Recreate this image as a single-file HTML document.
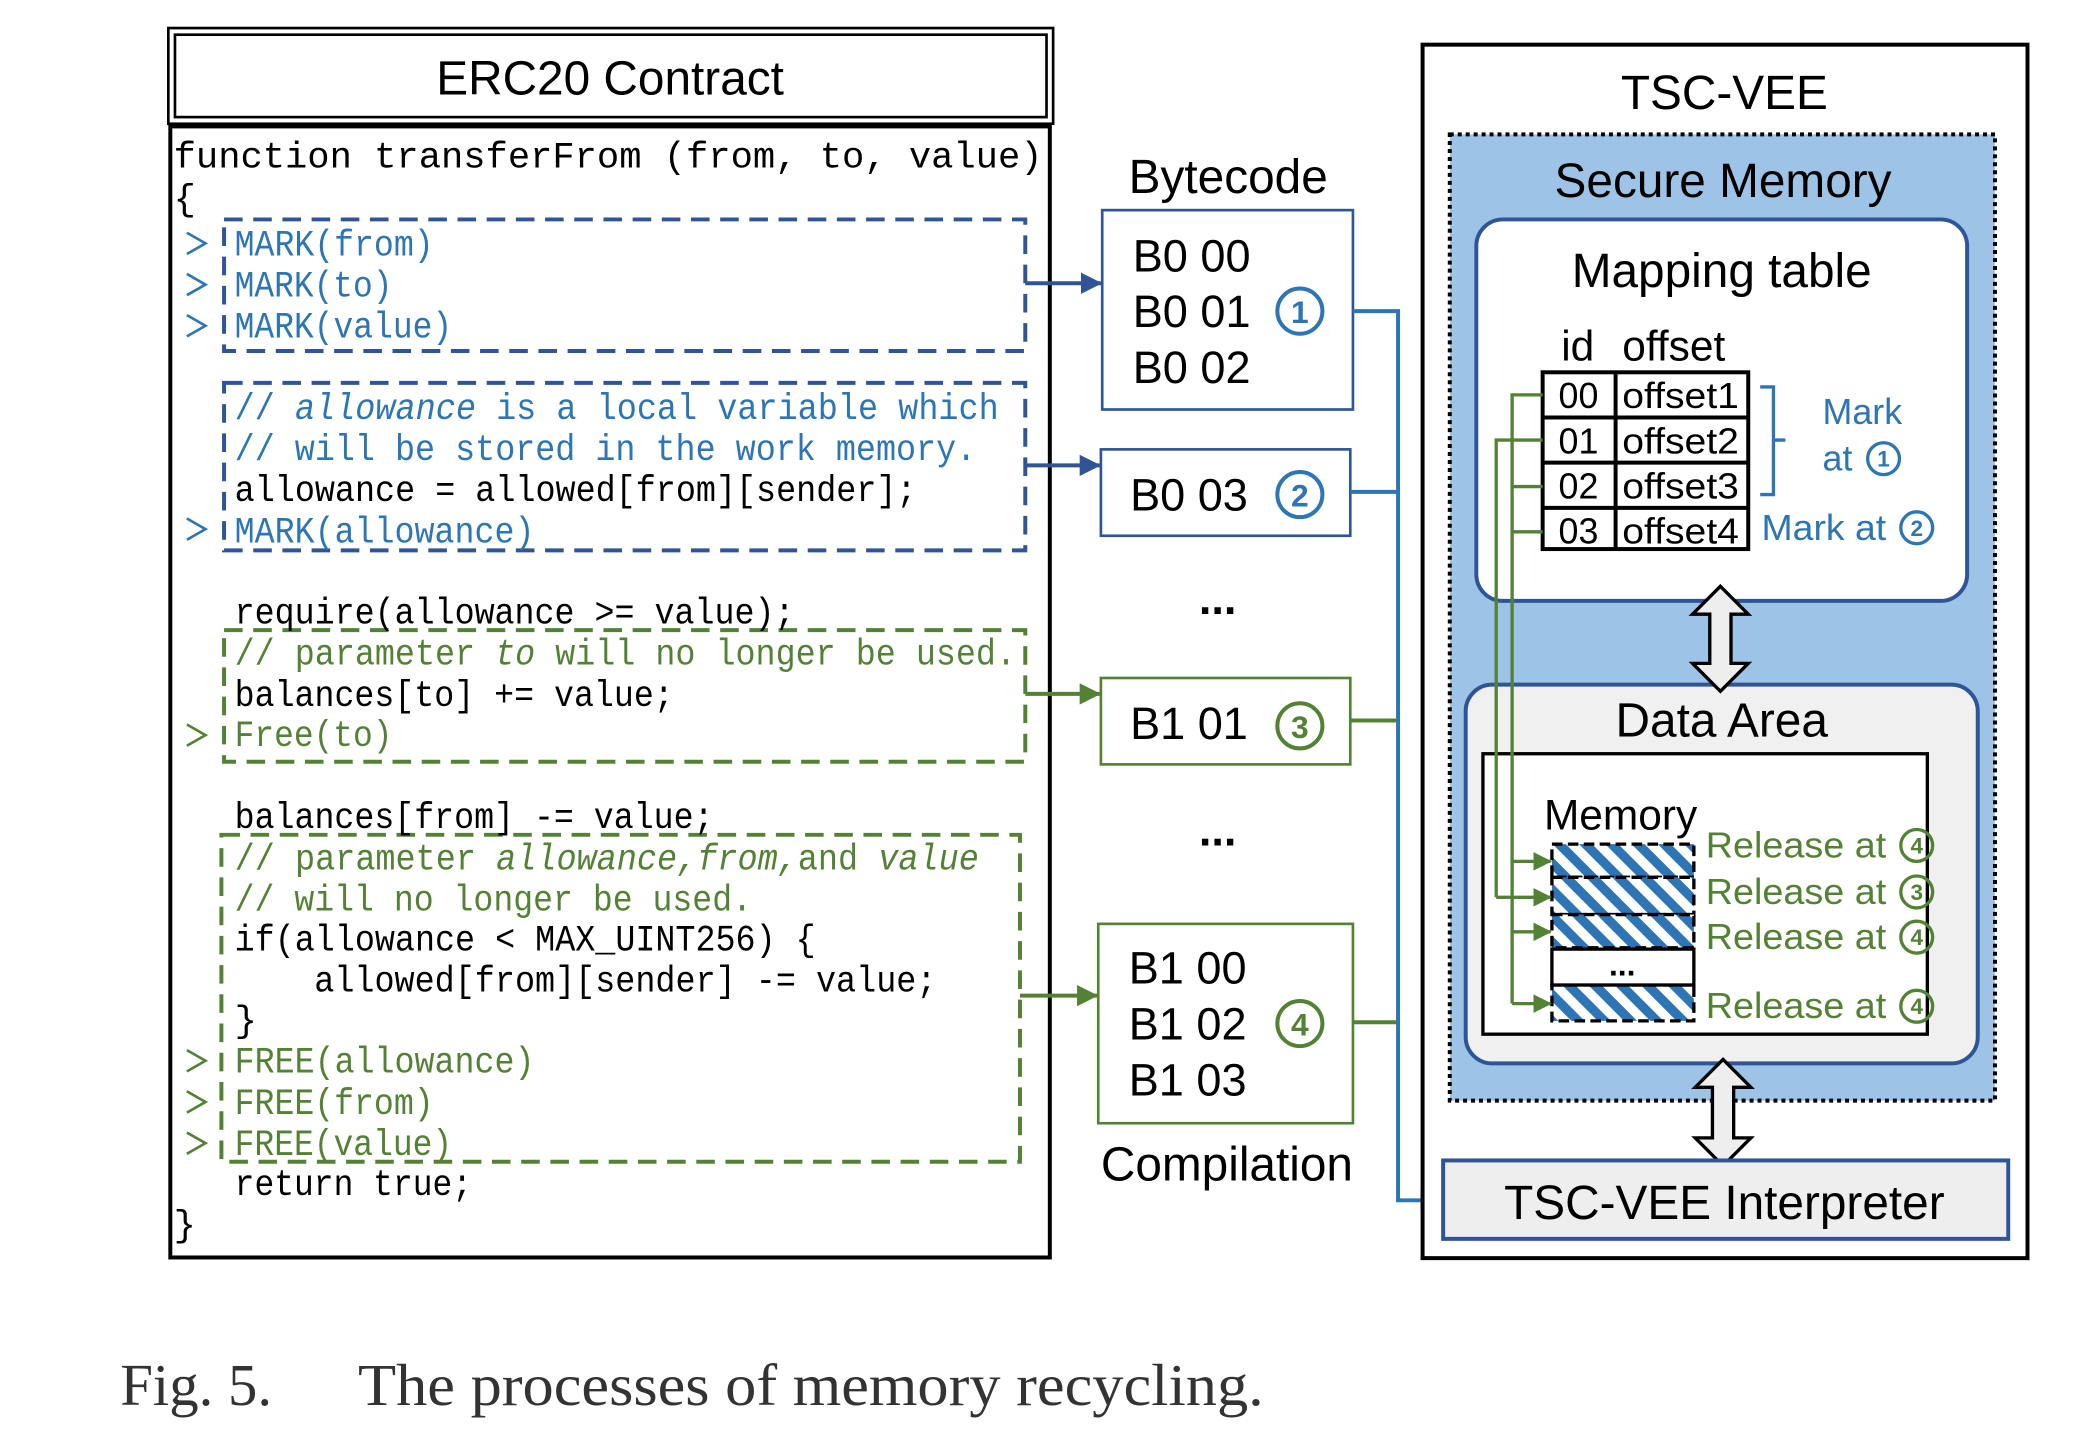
<!DOCTYPE html>
<html><head><meta charset="utf-8"><style>
html,body{margin:0;padding:0;background:#fff;}
svg{display:block;}
.mono{font-family:"Liberation Mono","DejaVu Sans Mono",monospace;font-size:28px;}
.sans{font-family:"Liberation Sans",Arial,sans-serif;}
</style></head><body>
<svg width="2084" height="1456" viewBox="0 0 1560 1090" preserveAspectRatio="none" xmlns="http://www.w3.org/2000/svg">
<defs>
<pattern id="hatch" width="14" height="14" patternUnits="userSpaceOnUse" patternTransform="rotate(-45)">
<rect width="14" height="14" fill="#fff"/><rect width="7" height="14" fill="#2e75b6"/>
</pattern>
<marker id="ab" markerWidth="16" markerHeight="16" refX="15" refY="8" orient="auto" markerUnits="userSpaceOnUse" viewBox="0 0 16 16"><path d="M0,0 L16,8 L0,16 z" fill="#2f5597"/></marker>
<marker id="ag" markerWidth="16" markerHeight="16" refX="15" refY="8" orient="auto" markerUnits="userSpaceOnUse" viewBox="0 0 16 16"><path d="M0,0 L16,8 L0,16 z" fill="#548235"/></marker>
<marker id="ags" markerWidth="14" markerHeight="14" refX="13" refY="7" orient="auto" markerUnits="userSpaceOnUse" viewBox="0 0 14 14"><path d="M0,0 L14,7 L0,14 z" fill="#548235"/></marker>
<marker id="al" markerWidth="16" markerHeight="16" refX="15" refY="8" orient="auto" markerUnits="userSpaceOnUse" viewBox="0 0 16 16"><path d="M0,0 L16,8 L0,16 z" fill="#2e75b6"/></marker>
</defs>
<g transform="translate(127,21) scale(0.993,0.995) translate(-127,-21)">
<rect x="126" y="21" width="667" height="72" fill="none" stroke="#000" stroke-width="2"/>
<rect x="131" y="26" width="657" height="62" fill="none" stroke="#000" stroke-width="2"/>
<text x="459" y="71" text-anchor="middle" class="sans" font-size="36">ERC20 Contract</text>
<rect x="127.5" y="95" width="663" height="851" fill="none" stroke="#000" stroke-width="3"/>

<rect x="168" y="165" width="604" height="99" fill="none" stroke="#2f5597" stroke-width="3" stroke-dasharray="14 8"/>
<rect x="168" y="288" width="604" height="126" fill="none" stroke="#2f5597" stroke-width="3" stroke-dasharray="14 8"/>
<rect x="168" y="474" width="604" height="99" fill="none" stroke="#548235" stroke-width="3" stroke-dasharray="14 8"/>
<rect x="166" y="628" width="602" height="246" fill="none" stroke="#548235" stroke-width="3" stroke-dasharray="14 8"/>

<g class="mono">
<text x="130" y="126" fill="#000" textLength="655" lengthAdjust="spacingAndGlyphs">function transferFrom (from, to, value)</text>
<text x="130" y="158" fill="#000">{</text>
<text x="176" y="192" fill="#2e75b6" textLength="150" lengthAdjust="spacingAndGlyphs">MARK(from)</text>
<text x="176" y="223" fill="#2e75b6" textLength="119" lengthAdjust="spacingAndGlyphs">MARK(to)</text>
<text x="176" y="254" fill="#2e75b6" textLength="164" lengthAdjust="spacingAndGlyphs">MARK(value)</text>
<text x="176" y="315" fill="#2e75b6" textLength="576" lengthAdjust="spacingAndGlyphs">// <tspan font-style="italic">allowance</tspan> is a local variable which</text>
<text x="176" y="346" fill="#2e75b6" textLength="559" lengthAdjust="spacingAndGlyphs">// will be stored in the work memory.</text>
<text x="176" y="377" fill="#000" textLength="514" lengthAdjust="spacingAndGlyphs">allowance = allowed[from][sender];</text>
<text x="176" y="408" fill="#2e75b6" textLength="226" lengthAdjust="spacingAndGlyphs">MARK(allowance)</text>
<text x="176" y="469" fill="#000" textLength="422" lengthAdjust="spacingAndGlyphs">require(allowance &gt;= value);</text>
<text x="176" y="500" fill="#548235" textLength="589" lengthAdjust="spacingAndGlyphs">// parameter <tspan font-style="italic">to</tspan> will no longer be used.</text>
<text x="176" y="531" fill="#000" textLength="331" lengthAdjust="spacingAndGlyphs">balances[to] += value;</text>
<text x="176" y="561" fill="#548235" textLength="119" lengthAdjust="spacingAndGlyphs">Free(to)</text>
<text x="176" y="623" fill="#000" textLength="361" lengthAdjust="spacingAndGlyphs">balances[from] -= value;</text>
<text x="176" y="654" fill="#548235" textLength="561" lengthAdjust="spacingAndGlyphs">// parameter <tspan font-style="italic">allowance,from,</tspan>and <tspan font-style="italic">value</tspan></text>
<text x="176" y="685" fill="#548235" textLength="390" lengthAdjust="spacingAndGlyphs">// will no longer be used.</text>
<text x="176" y="715" fill="#000" textLength="438" lengthAdjust="spacingAndGlyphs">if(allowance &lt; MAX_UINT256) {</text>
<text x="236" y="746" fill="#000" textLength="469" lengthAdjust="spacingAndGlyphs">allowed[from][sender] -= value;</text>
<text x="176" y="776" fill="#000">}</text>
<text x="176" y="807" fill="#548235" textLength="226" lengthAdjust="spacingAndGlyphs">FREE(allowance)</text>
<text x="176" y="838" fill="#548235" textLength="150" lengthAdjust="spacingAndGlyphs">FREE(from)</text>
<text x="176" y="869" fill="#548235" textLength="164" lengthAdjust="spacingAndGlyphs">FREE(value)</text>
<text x="176" y="899" fill="#000" textLength="179" lengthAdjust="spacingAndGlyphs">return true;</text>
<text x="130" y="930" fill="#000">}</text>
</g>
<g fill="none" stroke-width="2">
<path d="M140,175 L154,183 L140,191" stroke="#2e75b6"/>
<path d="M140,206 L154,214 L140,222" stroke="#2e75b6"/>
<path d="M140,237 L154,245 L140,253" stroke="#2e75b6"/>
<path d="M140,390 L154,398 L140,406" stroke="#2e75b6"/>
<path d="M140,545 L154,553 L140,561" stroke="#548235"/>
<path d="M140,790 L154,798 L140,806" stroke="#548235"/>
<path d="M140,821 L154,829 L140,837" stroke="#548235"/>
<path d="M140,852 L154,860 L140,868" stroke="#548235"/>
</g>

<line x1="772" y1="213" x2="829" y2="213" stroke="#2f5597" stroke-width="3" marker-end="url(#ab)"/>
<line x1="772" y1="350" x2="828" y2="350" stroke="#2f5597" stroke-width="3" marker-end="url(#ab)"/>
<line x1="772" y1="522" x2="828" y2="522" stroke="#548235" stroke-width="3" marker-end="url(#ag)"/>
<line x1="768" y1="749" x2="826" y2="749" stroke="#548235" stroke-width="3" marker-end="url(#ag)"/>

<text x="925" y="145" text-anchor="middle" class="sans" font-size="36">Bytecode</text>
<g class="sans" font-size="34">
<rect x="830" y="158" width="189" height="150" fill="#fff" stroke="#2f5597" stroke-width="2"/>
<text x="853" y="204">B0 00</text><text x="853" y="246">B0 01</text><text x="853" y="288">B0 02</text>
<rect x="829" y="338" width="188" height="65" fill="#fff" stroke="#2f5597" stroke-width="2"/>
<text x="851" y="384">B0 03</text>
<text x="917" y="462" text-anchor="middle" font-weight="bold">...</text>
<rect x="829" y="510" width="188" height="65" fill="#fff" stroke="#548235" stroke-width="2"/>
<text x="851" y="556">B1 01</text>
<text x="917" y="636" text-anchor="middle" font-weight="bold">...</text>
<rect x="827" y="695" width="192" height="150" fill="#fff" stroke="#548235" stroke-width="2"/>
<text x="850" y="740">B1 00</text><text x="850" y="782">B1 02</text><text x="850" y="824">B1 03</text>
</g>
<text x="924" y="888" text-anchor="middle" class="sans" font-size="36">Compilation</text>
<g class="sans" font-size="24" font-weight="bold" text-anchor="middle" fill="none" stroke-width="3">
<circle cx="979" cy="234" r="17" stroke="#2e75b6"/><text x="979" y="243" fill="#2e75b6" stroke="none">1</text>
<circle cx="979" cy="372" r="17" stroke="#2e75b6"/><text x="979" y="381" fill="#2e75b6" stroke="none">2</text>
<circle cx="979" cy="546" r="17" stroke="#548235"/><text x="979" y="555" fill="#548235" stroke="none">3</text>
<circle cx="979" cy="770" r="17" stroke="#548235"/><text x="979" y="779" fill="#548235" stroke="none">4</text>
</g>

<polyline points="1019,234 1053,234 1053,903 1085,903" fill="none" stroke="#2e75b6" stroke-width="3" marker-end="url(#al)"/>
<line x1="1017" y1="370" x2="1053" y2="370" stroke="#2e75b6" stroke-width="3"/>
<line x1="1017" y1="542" x2="1052" y2="542" stroke="#548235" stroke-width="3"/>
<line x1="1019" y1="769" x2="1052" y2="769" stroke="#548235" stroke-width="3"/>

<rect x="1071.5" y="33.5" width="456" height="913" fill="#fff" stroke="#000" stroke-width="3"/>
<text x="1299" y="82" text-anchor="middle" class="sans" font-size="36">TSC-VEE</text>
<rect x="1092" y="101" width="411" height="727" fill="#9dc3e6" stroke="#000" stroke-width="3" stroke-dasharray="3 3"/>
<text x="1298" y="148" text-anchor="middle" class="sans" font-size="36">Secure Memory</text>

<rect x="1112" y="165" width="370" height="287" rx="20" fill="#fff" stroke="#2f5597" stroke-width="3"/>
<text x="1297" y="216" text-anchor="middle" class="sans" font-size="36">Mapping table</text>
<text x="1176" y="271" class="sans" font-size="32">id</text>
<text x="1222" y="271" class="sans" font-size="32">offset</text>
<g stroke="#000" stroke-width="3" fill="#fff">
<rect x="1162" y="280" width="155" height="133"/>
<line x1="1217" y1="280" x2="1217" y2="413"/>
<line x1="1162" y1="314" x2="1317" y2="314"/>
<line x1="1162" y1="348" x2="1317" y2="348"/>
<line x1="1162" y1="382" x2="1317" y2="382"/>
</g>
<g class="sans" font-size="27">
<text x="1174" y="307">00</text><text x="1222" y="307" textLength="88" lengthAdjust="spacingAndGlyphs">offset1</text>
<text x="1174" y="341">01</text><text x="1222" y="341" textLength="88" lengthAdjust="spacingAndGlyphs">offset2</text>
<text x="1174" y="375">02</text><text x="1222" y="375" textLength="88" lengthAdjust="spacingAndGlyphs">offset3</text>
<text x="1174" y="409">03</text><text x="1222" y="409" textLength="88" lengthAdjust="spacingAndGlyphs">offset4</text>
</g>
<path d="M1326,291 L1336,291 L1336,372 L1326,372 M1336,331 L1345,331" fill="none" stroke="#2e75b6" stroke-width="2.5"/>
<g class="sans" font-size="27" fill="#2e75b6">
<text x="1373" y="319">Mark</text>
<text x="1373" y="354">at</text>
<text x="1327" y="406" textLength="94" lengthAdjust="spacingAndGlyphs">Mark at</text>
</g>
<g class="sans" font-size="17" font-weight="bold" text-anchor="middle" fill="none" stroke="#2e75b6" stroke-width="2.5">
<circle cx="1419" cy="345" r="12"/><text x="1419" y="351" fill="#2e75b6" stroke="none">1</text>
<circle cx="1444" cy="397" r="12"/><text x="1444" y="403" fill="#2e75b6" stroke="none">2</text>
</g>

<rect x="1104" y="515" width="386" height="285" rx="20" fill="#f0f0f0" stroke="#2f5597" stroke-width="3"/>
<text x="1297" y="554" text-anchor="middle" class="sans" font-size="36">Data Area</text>
<rect x="1117" y="567" width="335" height="211" fill="#fff" stroke="#000" stroke-width="2.5"/>
<text x="1163" y="624" class="sans" font-size="32">Memory</text>
<g stroke="#000" stroke-width="2.5" stroke-dasharray="8 4">
<rect x="1169" y="635" width="107" height="25" fill="url(#hatch)"/>
<rect x="1169" y="660" width="107" height="28" fill="url(#hatch)"/>
<rect x="1169" y="688" width="107" height="25" fill="url(#hatch)"/>
<rect x="1169" y="741" width="107" height="27" fill="url(#hatch)"/>
</g>
<rect x="1169" y="714" width="107" height="27" fill="#fff" stroke="#000" stroke-width="2.5"/>
<text x="1222" y="734" text-anchor="middle" class="sans" font-size="24" font-weight="bold">...</text>
<g class="sans" font-size="27" fill="#548235">
<text x="1285" y="645" textLength="136" lengthAdjust="spacingAndGlyphs">Release at</text>
<text x="1285" y="680" textLength="136" lengthAdjust="spacingAndGlyphs">Release at</text>
<text x="1285" y="714" textLength="136" lengthAdjust="spacingAndGlyphs">Release at</text>
<text x="1285" y="766" textLength="136" lengthAdjust="spacingAndGlyphs">Release at</text>
</g>
<g class="sans" font-size="17" font-weight="bold" text-anchor="middle" fill="none" stroke="#548235" stroke-width="2.5">
<circle cx="1444" cy="636" r="12"/><text x="1444" y="642" fill="#548235" stroke="none">4</text>
<circle cx="1444" cy="671" r="12"/><text x="1444" y="677" fill="#548235" stroke="none">3</text>
<circle cx="1444" cy="705" r="12"/><text x="1444" y="711" fill="#548235" stroke="none">4</text>
<circle cx="1444" cy="757" r="12"/><text x="1444" y="763" fill="#548235" stroke="none">4</text>
</g>

<g fill="none" stroke="#548235" stroke-width="2.5">
<polyline points="1162,297 1139,297 1139,755"/>
<line x1="1162" y1="366" x2="1139" y2="366"/>
<line x1="1162" y1="400" x2="1139" y2="400"/>
<polyline points="1162,331 1127,331 1127,675"/>
<line x1="1139" y1="648" x2="1168" y2="648" marker-end="url(#ags)"/>
<line x1="1127" y1="675" x2="1168" y2="675" marker-end="url(#ags)"/>
<line x1="1139" y1="701" x2="1168" y2="701" marker-end="url(#ags)"/>
<line x1="1139" y1="755" x2="1168" y2="755" marker-end="url(#ags)"/>
</g>

<path d="M1296,441 L1317,462 L1304,462 L1304,499 L1317,499 L1296,520 L1275,499 L1288,499 L1288,462 L1275,462 Z" fill="#eee" stroke="#000" stroke-width="2.5"/>
<path d="M1298,797 L1319,818 L1306,818 L1306,856 L1319,856 L1298,877 L1277,856 L1290,856 L1290,818 L1277,818 Z" fill="#eee" stroke="#000" stroke-width="2.5"/>

<rect x="1087" y="873" width="426" height="59" fill="#eee" stroke="#2f5597" stroke-width="3"/>
<text x="1299" y="917" text-anchor="middle" class="sans" font-size="36">TSC-VEE Interpreter</text>
</g>
<text x="90" y="1052" font-family="'Liberation Serif',serif" font-size="44" fill="#333">Fig. 5.</text>
<text x="268" y="1052" font-family="'Liberation Serif',serif" font-size="44" fill="#333" textLength="678" lengthAdjust="spacingAndGlyphs">The processes of memory recycling.</text>
</svg>
</body></html>
